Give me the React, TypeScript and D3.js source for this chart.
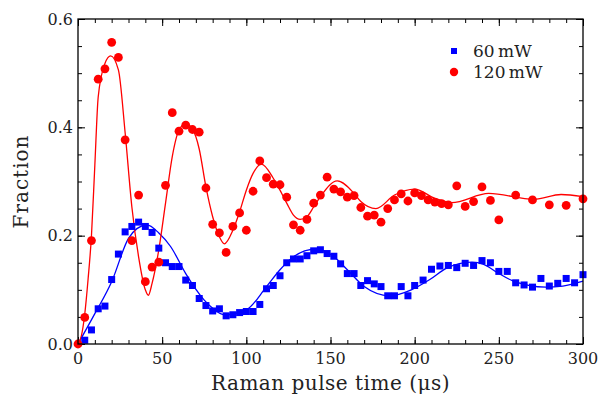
import { useEffect, useRef } from 'react';
import * as d3 from 'd3';

// measured points, 60 mW (blue squares)
const blueTimes = [4, 8, 12, 16, 20, 24, 28, 32, 36, 40, 44, 48, 52, 56, 60, 64, 68, 72, 76, 80, 84, 88, 92, 96, 100, 104, 108, 112, 116, 120, 124, 128, 132, 136, 140, 144, 148, 152, 156, 160, 164, 168, 172, 176, 180, 184, 188, 192, 196, 200, 205, 210, 215, 220, 225, 230, 235, 240, 245, 250, 255, 260, 265, 270, 275, 280, 285, 290, 295, 300];
const blueValues = [0.007, 0.026, 0.065, 0.070, 0.119, 0.166, 0.207, 0.217, 0.225, 0.217, 0.206, 0.177, 0.150, 0.143, 0.143, 0.118, 0.108, 0.084, 0.071, 0.061, 0.065, 0.052, 0.054, 0.058, 0.060, 0.060, 0.073, 0.102, 0.108, 0.126, 0.150, 0.157, 0.157, 0.163, 0.172, 0.174, 0.167, 0.162, 0.148, 0.130, 0.130, 0.108, 0.117, 0.111, 0.106, 0.089, 0.089, 0.106, 0.089, 0.108, 0.118, 0.138, 0.144, 0.145, 0.141, 0.149, 0.145, 0.154, 0.150, 0.134, 0.134, 0.113, 0.109, 0.105, 0.121, 0.107, 0.112, 0.121, 0.113, 0.128];

// measured points, 120 mW (red circles)
const redTimes = [0, 4, 8, 12, 16, 20, 24, 28, 32, 36, 40, 44, 48, 52, 56, 60, 64, 68, 72, 76, 80, 84, 88, 92, 96, 100, 104, 108, 112, 116, 120, 124, 128, 132, 136, 140, 144, 148, 152, 156, 160, 164, 168, 172, 176, 180, 184, 188, 192, 196, 200, 204, 208, 212, 216, 220, 225, 230, 235, 240, 245, 250, 260, 270, 280, 290, 300];
const redValues = [0.0, 0.049, 0.191, 0.489, 0.508, 0.557, 0.529, 0.377, 0.191, 0.275, 0.115, 0.142, 0.151, 0.293, 0.427, 0.393, 0.404, 0.396, 0.391, 0.288, 0.221, 0.205, 0.169, 0.217, 0.242, 0.210, 0.282, 0.338, 0.307, 0.295, 0.294, 0.271, 0.220, 0.210, 0.230, 0.260, 0.275, 0.308, 0.286, 0.281, 0.271, 0.274, 0.252, 0.236, 0.238, 0.225, 0.250, 0.266, 0.277, 0.264, 0.279, 0.274, 0.266, 0.262, 0.259, 0.257, 0.292, 0.254, 0.263, 0.290, 0.265, 0.229, 0.275, 0.266, 0.257, 0.256, 0.268];

// fitted curves at their turning points
const blueFitTimes = [0, 10, 20, 30, 35, 41, 48, 55, 64, 75, 80, 87, 100, 112, 120, 128, 141, 152, 160, 170, 185, 198, 209, 219, 234, 241, 249, 258, 278, 288, 300];
const blueFitValues = [0, 0.056, 0.115, 0.195, 0.213, 0.220, 0.205, 0.180, 0.130, 0.081, 0.066, 0.054, 0.063, 0.106, 0.137, 0.161, 0.175, 0.161, 0.137, 0.106, 0.089, 0.100, 0.119, 0.140, 0.151, 0.147, 0.132, 0.117, 0.105, 0.107, 0.116];

const redFitTimes = [0, 2, 4, 6, 8, 10, 12, 16, 19.4, 24, 28, 32, 36, 40, 41.8, 44, 48, 52, 56, 60, 64, 68, 72, 76, 80, 84, 87, 92, 96, 100, 104, 109, 116, 120, 124, 128, 132, 136, 140, 144, 154, 164, 168, 177, 188, 200, 212, 222, 244, 271, 287, 300];
const redFitValues = [0, 0.015, 0.055, 0.12, 0.2, 0.33, 0.456, 0.518, 0.532, 0.506, 0.39, 0.253, 0.161, 0.10, 0.09, 0.112, 0.174, 0.26, 0.346, 0.395, 0.407, 0.397, 0.36, 0.29, 0.235, 0.198, 0.185, 0.21, 0.244, 0.284, 0.315, 0.332, 0.306, 0.284, 0.26, 0.238, 0.230, 0.235, 0.253, 0.272, 0.301, 0.278, 0.263, 0.250, 0.275, 0.286, 0.269, 0.261, 0.278, 0.267, 0.276, 0.272];

const xMajorTicks = [0, 50, 100, 150, 200, 250, 300];
const yMajorTicks = [0, 0.2, 0.4, 0.6];
const legendLabels = ['60\u2009mW', '120\u2009mW'];

const BLUE = '#0000ff';
const RED = '#ff0000';
const FONT = "'DejaVu Serif', serif";

export default function App() {
    const svgRef = useRef<SVGSVGElement>(null);
    const width = 603;
    const height = 398;

    useEffect(() => {
        if (!svgRef.current) return;
        const svg = d3.select(svgRef.current);
        svg.selectAll('*').remove();

        const margin = { top: 19, right: 20, bottom: 54, left: 78 };
        const w = width - margin.left - margin.right;
        const h = height - margin.top - margin.bottom;

        const x = d3.scaleLinear().domain([0, 300]).range([0, w]);
        const y = d3.scaleLinear().domain([0, 0.6]).range([h, 0]);

        const g = svg.append('g').attr('transform', `translate(${margin.left},${margin.top})`);

        const xMinor = d3.range(0, 301, 10);
        const yMinor = d3.range(0, 0.601, 0.05);

        // ticks pointing inward on all four sides
        const tickAxis = (axisFn: any, scale: any, values: number[], len: number, tr: string) => {
            const a = g.append('g').attr('transform', tr)
                .call(axisFn(scale).tickValues(values).tickSize(-len).tickFormat(() => ''));
            a.select('.domain').remove();
            a.selectAll('line').attr('stroke', '#000').attr('stroke-width', 1);
        };
        tickAxis(d3.axisBottom, x, xMinor, 4, `translate(0,${h})`);
        tickAxis(d3.axisBottom, x, xMajorTicks, 7, `translate(0,${h})`);
        tickAxis(d3.axisTop, x, xMinor, 4, 'translate(0,0)');
        tickAxis(d3.axisTop, x, xMajorTicks, 7, 'translate(0,0)');
        tickAxis(d3.axisLeft, y, yMinor, 4, 'translate(0,0)');
        tickAxis(d3.axisLeft, y, yMajorTicks, 7, 'translate(0,0)');
        tickAxis(d3.axisRight, y, yMinor, 4, `translate(${w},0)`);
        tickAxis(d3.axisRight, y, yMajorTicks, 7, `translate(${w},0)`);

        // tick labels
        g.selectAll('.xlab').data(xMajorTicks).enter().append('text')
            .attr('x', d => x(d)).attr('y', h + 20)
            .attr('text-anchor', 'middle')
            .attr('font-family', FONT).attr('font-size', 16).attr('fill', '#222')
            .text(d => d3.format('d')(d));
        g.selectAll('.ylab').data(yMajorTicks).enter().append('text')
            .attr('x', -5).attr('y', d => y(d)).attr('dy', '0.35em')
            .attr('text-anchor', 'end')
            .attr('font-family', FONT).attr('font-size', 16).attr('fill', '#222')
            .text(d => d3.format('.1f')(d));

        // axis titles
        g.append('text')
            .attr('x', w / 2).attr('y', h + 46)
            .attr('text-anchor', 'middle')
            .attr('font-family', FONT).attr('font-size', 20).attr('letter-spacing', 0.5).attr('fill', '#222')
            .text('Raman pulse time (\u03bcs)');
        g.append('text')
            .attr('transform', `translate(${-50},${h / 2}) rotate(-90)`)
            .attr('text-anchor', 'middle')
            .attr('font-family', FONT).attr('font-size', 20).attr('letter-spacing', 1).attr('fill', '#222')
            .text('Fraction');

        const marks = g.append('g');

        // fit curves
        const line = d3.line<[number, number]>()
            .x(d => x(d[0])).y(d => y(d[1]))
            .curve(d3.curveMonotoneX);
        marks.append('path')
            .datum(blueFitTimes.map((t, i) => [t, blueFitValues[i]] as [number, number]))
            .attr('d', line).attr('fill', 'none').attr('stroke', BLUE).attr('stroke-width', 1.3);
        marks.append('path')
            .datum(redFitTimes.map((t, i) => [t, redFitValues[i]] as [number, number]))
            .attr('d', line).attr('fill', 'none').attr('stroke', RED).attr('stroke-width', 1.3);

        // data markers
        const sq = 7;
        marks.selectAll('.blue').data(blueTimes).enter().append('rect')
            .attr('x', (d) => x(d) - sq / 2)
            .attr('y', (d, i) => y(blueValues[i]) - sq / 2)
            .attr('width', sq).attr('height', sq)
            .attr('fill', BLUE);
        marks.selectAll('.red').data(redTimes).enter().append('circle')
            .attr('cx', d => x(d))
            .attr('cy', (d, i) => y(redValues[i]))
            .attr('r', 4.4)
            .attr('fill', RED);

        // frame
        g.append('rect')
            .attr('width', w).attr('height', h)
            .attr('fill', 'none').attr('stroke', '#000').attr('stroke-width', 1.3);

        // legend
        const lg = g.append('g').attr('transform', `translate(${376},${32})`);
        lg.append('rect').attr('x', -3).attr('y', -3).attr('width', 6).attr('height', 6).attr('fill', BLUE);
        lg.append('circle').attr('cx', 0).attr('cy', 21).attr('r', 4.2).attr('fill', RED);
        legendLabels.forEach((lab, i) => {
            lg.append('text')
                .attr('x', 19).attr('y', i * 21).attr('dy', '0.35em')
                .attr('font-family', FONT).attr('font-size', 17).attr('fill', '#222')
                .text(lab);
        });
    }, []);

    return (
        <svg
            ref={svgRef}
            width={width}
            height={height}
            style={{ position: 'absolute', left: 0, top: 0, background: '#fff' }}
        />
    );
}
